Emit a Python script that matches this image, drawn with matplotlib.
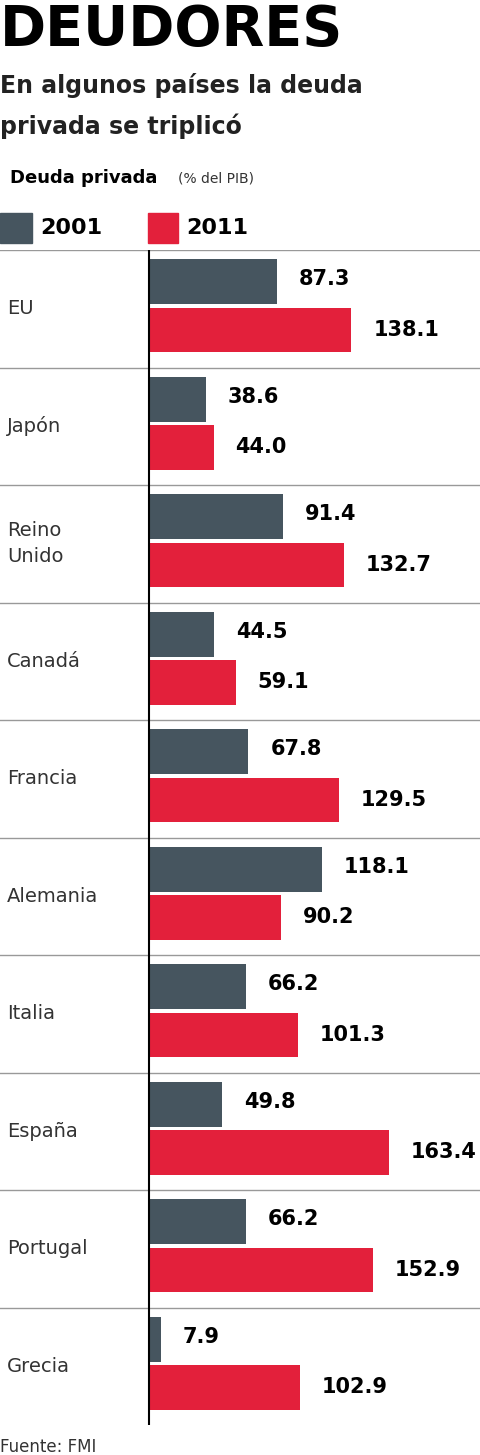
import matplotlib
matplotlib.use("Agg")
import matplotlib.pyplot as plt

countries = ["EU", "Japón", "Reino\nUnido", "Canadá", "Francia", "Alemania", "Italia", "España", "Portugal", "Grecia"]
v2001 = [87.3, 38.6, 91.4, 44.5, 67.8, 118.1, 66.2, 49.8, 66.2, 7.9]
v2011 = [138.1, 44.0, 132.7, 59.1, 129.5, 90.2, 101.3, 163.4, 152.9, 102.9]

c01 = "#46555f"
c11 = "#e3203b"
W, H = 480, 1455
fig = plt.figure(figsize=(W/100, H/100), dpi=100)
top_px, bot_px = 250, 1425
ax = fig.add_axes([0, 1 - bot_px/H, 1, (bot_px - top_px)/H])
ppu = 1.466
ax.set_xlim(-149/ppu, (W-149)/ppu)
n = len(countries)
ax.set_ylim(n, 0)
ax.axis("off")
ys = list(range(n))
ax.barh([y+0.27 for y in ys], v2001, height=0.38, color=c01)
ax.barh([y+0.68 for y in ys], v2011, height=0.38, color=c11)
for i in ys:
    ax.text(v2001[i]+15, i+0.25, f"{v2001[i]:.1f}", va="center", ha="left", fontsize=15, fontweight="bold")
    ax.text(v2011[i]+15, i+0.68, f"{v2011[i]:.1f}", va="center", ha="left", fontsize=15, fontweight="bold")
    ax.text(-97, i+0.5, countries[i], va="center", ha="left", fontsize=14, color="#333333", linespacing=1.5)
    if i > 0:
        ax.axhline(i, color="#999999", lw=1)
ax.axhline(0, color="#999999", lw=1)
ax.axvline(0, color="black", lw=1.5)

fig.text(0.0, 1-30/H, "DEUDORES", fontsize=40, fontweight="bold", va="center", ha="left")
fig.text(0.0, 1-86/H, "En algunos países la deuda", fontsize=17, fontweight="bold", va="center", color="#222222")
fig.text(0.0, 1-126/H, "privada se triplicó", fontsize=17, fontweight="bold", va="center", color="#222222")
fig.text(10/W, 1-178/H, "Deuda privada", fontsize=13, fontweight="bold", va="center")
fig.text(178/W, 1-178/H, "(% del PIB)", fontsize=10, va="center", color="#333333")
fig.patches.append(plt.Rectangle((0, 1-243/H), 32/W, 30/H, transform=fig.transFigure, color=c01))
fig.text(40/W, 1-228/H, "2001", fontsize=16, fontweight="bold", va="center")
fig.patches.append(plt.Rectangle((148/W, 1-243/H), 30/W, 30/H, transform=fig.transFigure, color=c11))
fig.text(186/W, 1-228/H, "2011", fontsize=16, fontweight="bold", va="center")
fig.text(0.0, 1-1447/H, "Fuente: FMI", fontsize=12, va="center", color="#333333")
fig.savefig("out.png", dpi=100)
